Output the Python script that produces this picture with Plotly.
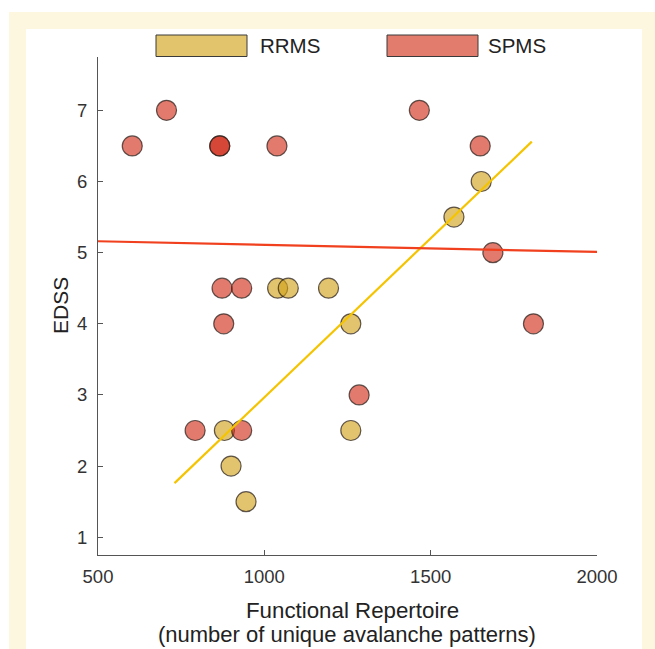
import plotly.graph_objects as go

# ---- data ----
rrms_x = [1040, 1072, 1193, 880, 900, 945, 1260, 1260, 1570, 1652]
rrms_y = [4.5, 4.5, 4.5, 2.5, 2.0, 1.5, 4.0, 2.5, 5.5, 6.0]

spms_x = [603, 706, 866, 866, 1038, 1466, 1649, 1687, 873, 932, 878, 792, 932, 1285, 1809]
spms_y = [6.5, 7.0, 6.5, 6.5, 6.5, 7.0, 6.5, 5.0, 4.5, 4.5, 4.0, 2.5, 2.5, 3.0, 4.0]

rrms_fit_x = [730, 1804]
rrms_fit_y = [1.76, 6.56]
spms_fit_x = [500, 2000]
spms_fit_y = [5.16, 5.01]

x_ticks = [500, 1000, 1500, 2000]
y_ticks = [1, 2, 3, 4, 5, 6, 7]
legend_labels = ["RRMS", "SPMS"]

# ---- layout geometry ----
WIDTH, HEIGHT = 655, 649
L, R, T, B = 98, 58, 57, 94
PW = WIDTH - L - R
PH = HEIGHT - T - B


def px(x):
    return (x - L) / PW


def py(y):
    return (HEIGHT - B - y) / PH


FONT = "Liberation Sans, Arial, sans-serif"
rrms_fill = "rgba(208,160,21,0.62)"
spms_fill = "rgba(208,41,21,0.62)"
edge = "rgba(45,35,30,0.75)"

fig = go.Figure()
fig.add_trace(go.Scatter(
    x=rrms_x, y=rrms_y, mode="markers", name="RRMS", showlegend=False,
    marker=dict(size=20, color=rrms_fill, line=dict(color=edge, width=1.2)),
))
fig.add_trace(go.Scatter(
    x=spms_x, y=spms_y, mode="markers", name="SPMS", showlegend=False,
    marker=dict(size=20, color=spms_fill, line=dict(color=edge, width=1.2)),
))
fig.add_trace(go.Scatter(
    x=rrms_fit_x, y=rrms_fit_y, mode="lines", showlegend=False,
    line=dict(color="#F5C400", width=2.2),
))
fig.add_trace(go.Scatter(
    x=spms_fit_x, y=spms_fit_y, mode="lines", showlegend=False,
    line=dict(color="#F0401E", width=2.2),
))

shapes = [
    # cream frame
    dict(type="rect", xref="paper", yref="paper", layer="below",
         x0=px(9), x1=px(656), y0=py(12), y1=py(650),
         fillcolor="#FEF7DF", line=dict(width=0)),
    # white panel
    dict(type="rect", xref="paper", yref="paper", layer="below",
         x0=px(26), x1=px(642), y0=py(29), y1=py(650),
         fillcolor="white", line=dict(width=0)),
    # legend patches
    dict(type="rect", xref="paper", yref="paper",
         x0=px(156), x1=px(247), y0=py(35), y1=py(56.5),
         fillcolor="#E2C46C", line=dict(color="#3a3a3a", width=1)),
    dict(type="rect", xref="paper", yref="paper",
         x0=px(387), x1=px(478), y0=py(35), y1=py(56.5),
         fillcolor="#E27D6E", line=dict(color="#3a3a3a", width=1)),
]

annotations = [
    dict(text=legend_labels[0], xref="paper", yref="paper", x=px(258), y=py(46),
         xanchor="left", yanchor="middle", showarrow=False,
         font=dict(family=FONT, size=20.5, color="#222")),
    dict(text=legend_labels[1], xref="paper", yref="paper", x=px(486), y=py(46),
         xanchor="left", yanchor="middle", showarrow=False,
         font=dict(family=FONT, size=20.5, color="#222")),
    dict(text="EDSS", xref="paper", yref="paper", x=px(60), y=py(306),
         xanchor="center", yanchor="middle", textangle=-90, showarrow=False,
         font=dict(family=FONT, size=21, color="#222")),
    dict(text="Functional Repertoire",
         xref="paper", yref="paper", x=px(352), y=py(610),
         xanchor="center", yanchor="middle", showarrow=False,
         font=dict(family=FONT, size=22.3, color="#222")),
    dict(text="(number of unique avalanche patterns)",
         xref="paper", yref="paper", x=px(347), y=py(634),
         xanchor="center", yanchor="middle", showarrow=False,
         font=dict(family=FONT, size=22, color="#222")),
]

fig.update_layout(
    width=WIDTH, height=HEIGHT,
    margin=dict(l=L, r=R, t=T, b=B, pad=0),
    paper_bgcolor="white", plot_bgcolor="rgba(0,0,0,0)",
    shapes=shapes, annotations=annotations,
    font=dict(family=FONT, size=18, color="#333"),
    showlegend=False,
)
fig.update_xaxes(
    range=[500, 2000], tickvals=x_ticks, ticktext=[str(v) for v in x_ticks],
    ticks="inside", ticklen=5, tickcolor="#555", showline=True, linecolor="#555",
    linewidth=1, showgrid=False, zeroline=False, mirror=False,
    tickfont=dict(family=FONT, size=18.5, color="#333"), ticklabelstandoff=5,
)
fig.update_yaxes(
    range=[0.75, 7.75], tickvals=y_ticks, ticktext=[str(v) for v in y_ticks],
    ticks="inside", ticklen=5, tickcolor="#555", showline=True, linecolor="#555",
    linewidth=1, showgrid=False, zeroline=False, mirror=False,
    tickfont=dict(family=FONT, size=18.5, color="#333"), ticklabelstandoff=6,
)

fig.write_html(
    "out.html",
    config={"displayModeBar": False},
    post_script="document.body.style.margin='0';document.body.style.overflow='hidden';",
)
